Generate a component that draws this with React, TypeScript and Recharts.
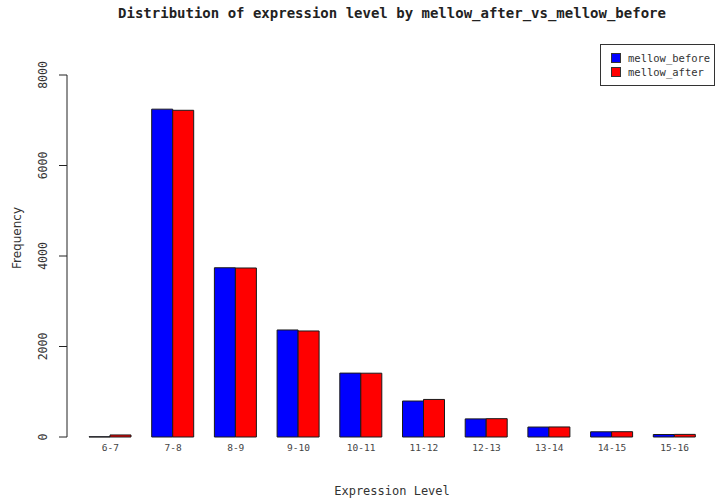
import React from 'react';
import { BarChart, Bar, XAxis, YAxis, Legend } from 'recharts';

const categories = ['6-7', '7-8', '8-9', '9-10', '10-11', '11-12', '12-13', '13-14', '14-15', '15-16'];
const beforeValues = [5, 7245, 3740, 2365, 1412, 795, 400, 220, 115, 55];
const afterValues = [45, 7220, 3735, 2343, 1410, 830, 405, 222, 117, 58];
const yTicks = [0, 2000, 4000, 6000, 8000];

const seriesNames = ['mellow_before', 'mellow_after'];
const seriesColors = ['#0000FF', '#FF0000'];

const data = categories.map((c, i) => ({
  level: c,
  mellow_before: beforeValues[i],
  mellow_after: afterValues[i],
}));

const MONO = '"DejaVu Sans Mono", "Liberation Mono", monospace';

const XTick = (props: any) => {
  const { x, y, payload } = props;
  return (
    <text x={x} y={y + 10.5} textAnchor="middle" dominantBaseline="central" fontFamily={MONO} fontSize={9.5} fill="#444">
      {payload.value}
    </text>
  );
};

const YTick = (props: any) => {
  const { x, y, payload } = props;
  const cx = x - 16;
  return (
    <text x={cx} y={y} transform={`rotate(-90 ${cx} ${y})`} textAnchor="middle" dominantBaseline="central" fontFamily={MONO} fontSize={11.5} fill="#333">
      {payload.value}
    </text>
  );
};

const LegendBox = () => {
  return (
    <div style={{ border: '1px solid #333', background: '#fff', padding: '6px 0 5px 10px', boxSizing: 'border-box', width: 115, height: 42 }}>
      {seriesNames.map((name, i) => (
        <div key={name} style={{ display: 'flex', alignItems: 'center', height: 14, fontFamily: MONO, fontSize: 10.5, color: '#333', whiteSpace: 'nowrap' }}>
          <span style={{ display: 'inline-block', flexShrink: 0, width: 8, height: 8, background: seriesColors[i], border: '1px solid #333', marginRight: 7 }} />
          {name}
        </div>
      ))}
    </div>
  );
};

export default function App() {
  return (
    <div style={{ position: 'absolute', left: 0, top: 0, width: 717, height: 503, background: '#fff' }}>
      <BarChart width={717} height={503} data={data} margin={{ top: 75, right: 11, bottom: 36, left: 7 }} barGap={0} barSize={21}>
        <XAxis dataKey="level" height={30} padding={{ left: 12, right: 0 }} axisLine={false} tickLine={false} tickSize={0} tickMargin={0} tick={<XTick />} interval={0} />
        <YAxis width={60} domain={[0, 8000]} ticks={yTicks} tickSize={8} tickMargin={0} stroke="#222" axisLine={{ stroke: '#222' }} tickLine={{ stroke: '#222' }} tick={<YTick />} />
        <Legend layout="horizontal" verticalAlign="middle" align="center" content={<LegendBox />} wrapperStyle={{ left: 600, top: 44, width: 115, height: 42 }} />
        {seriesNames.map((s, i) => (
          <Bar key={s} dataKey={s} name={s} fill={seriesColors[i]} stroke="#1a1a1a" strokeWidth={1} isAnimationActive={false} />
        ))}
      </BarChart>
      <div style={{ position: 'absolute', left: 392, top: 5, transform: 'translateX(-50%)', whiteSpace: 'nowrap', fontFamily: MONO, fontWeight: 'bold', fontSize: 14, color: '#222' }}>
        Distribution of expression level by mellow_after_vs_mellow_before
      </div>
      <div style={{ position: 'absolute', left: 392, top: 484, transform: 'translateX(-50%)', whiteSpace: 'nowrap', fontFamily: MONO, fontSize: 12, color: '#333' }}>
        Expression Level
      </div>
      <div style={{ position: 'absolute', left: 17, top: 238, transform: 'translate(-50%, -50%) rotate(-90deg)', whiteSpace: 'nowrap', fontFamily: '"DejaVu Sans", sans-serif', fontSize: 12, color: '#333' }}>
        Frequency
      </div>
    </div>
  );
}
